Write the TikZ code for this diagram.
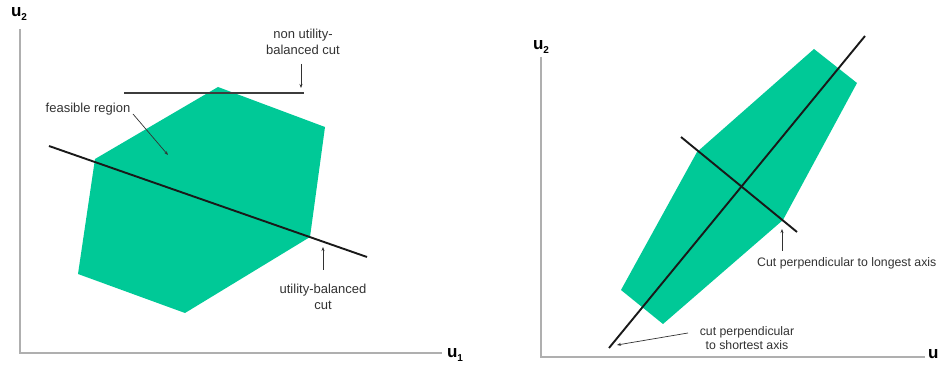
\documentclass[tikz,border=0pt]{standalone}
\usepackage{fontspec}
\setmainfont{Liberation Sans}
\usetikzlibrary{arrows.meta}
\definecolor{feas}{RGB}{0,201,151}
\definecolor{axisgray}{RGB}{175,175,175}
\definecolor{txt}{RGB}{50,50,50}
\definecolor{cutgray}{RGB}{60,60,60}
\newcommand{\usub}[1]{u\raisebox{-0.4ex}{\fontsize{10}{10}\selectfont #1}}
\begin{document}
\begin{tikzpicture}[x=1pt,y=-1pt,
  axisline/.style={draw=axisgray,line width=1.5pt},
  region/.style={fill=feas,draw=none},
  cutline/.style={draw=black!90,line width=1.9pt},
  flatcut/.style={draw=cutgray,line width=2.5pt},
  pointer/.style={draw=txt,line width=0.7pt,-{Stealth[length=4pt,width=3pt]}},
  lbl/.style={font=\fontsize{13}{15.5}\selectfont,text=txt,align=center,inner sep=0pt},
  lblr/.style={font=\fontsize{12.3}{14}\selectfont,text=txt,align=center,inner sep=0pt},
  axlbl/.style={font=\fontsize{17}{18}\selectfont\bfseries,text=black,inner sep=0pt}]
\useasboundingbox (0,0) rectangle (938,366);

% ---------- left panel ----------
\coordinate (la-top) at (20,29);
\coordinate (la-o) at (20,353);
\coordinate (la-right) at (442,353);
\draw[axisline] (la-top) -- (la-o) -- (la-right);
\node[axlbl] (lu2) at (19,14) {\usub{2}};
\node[axlbl] (lu1) at (455,355) {\usub{1}};

\fill[region] (218,87) -- (325,127) -- (310,237) -- (185,313) -- (78,274) -- (95,159) -- cycle;

\coordinate (hc-a) at (124,93);
\coordinate (hc-b) at (304,93);
\draw[flatcut] (hc-a) -- (hc-b);
\coordinate (dc-a) at (49,146);
\coordinate (dc-b) at (367,257);
\draw[cutline] (dc-a) -- (dc-b);

\node[lbl] (nonub) at (303,42) {non utility-\\balanced cut};
\coordinate (nonub-tip) at (301,88);
\draw[pointer] (301,64) -- (nonub-tip);

\node[lbl] (feas) at (88,109) {feasible region};
\coordinate (feas-tip) at (168,155);
\draw[pointer] (133,114) -- (feas-tip);

\node[lbl] (ub) at (323,297) {utility-balanced\\cut};
\coordinate (ub-tip) at (323,247);
\draw[pointer] (323,270) -- (ub-tip);

% ---------- right panel ----------
\coordinate (ra-top) at (541,57);
\coordinate (ra-o) at (541,357);
\coordinate (ra-right) at (925,357);
\draw[axisline] (ra-top) -- (ra-o) -- (ra-right);
\node[axlbl] (ru2) at (541,47) {\usub{2}};
\node[axlbl,anchor=west] (ru1) at (928,354) {u};

\fill[region] (814,49) -- (857,83) -- (783,220) -- (663,324) -- (621,290) -- (697,152) -- cycle;

\coordinate (long-a) at (609,348);
\coordinate (long-b) at (865,36);
\draw[cutline] (long-a) -- (long-b);
\coordinate (cross-a) at (681,137);
\coordinate (cross-b) at (797,232);
\draw[cutline] (cross-a) -- (cross-b);

\node[lblr,anchor=west] (longest) at (757,263) {Cut perpendicular to longest axis};
\coordinate (longest-tip) at (782,229);
\draw[pointer] (782,251) -- (longest-tip);

\node[lblr] (shortest) at (747,338) {cut perpendicular\\to shortest axis};
\coordinate (shortest-tip) at (617,345);
\draw[pointer] (688,333) -- (shortest-tip);
\end{tikzpicture}
\end{document}
